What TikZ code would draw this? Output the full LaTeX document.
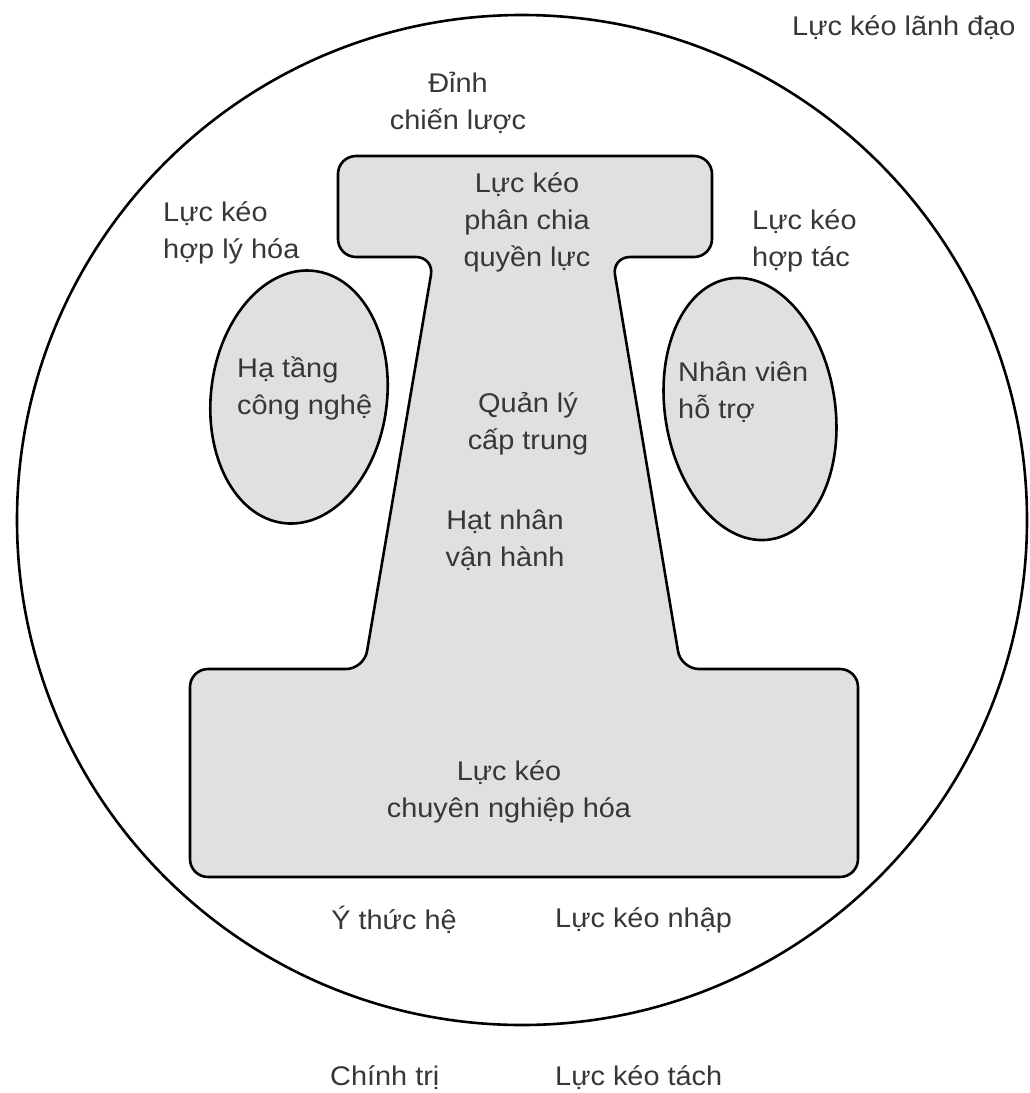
\documentclass[tikz,border=0pt]{standalone}
\usepackage{fontspec}
\setmainfont[FakeStretch=1.07]{Liberation Sans}
\usepackage{xcolor}
\definecolor{txtgray}{RGB}{55,55,55}
\definecolor{bodyfill}{RGB}{224,224,224}
\tikzset{
    lab/.style={
        font=\fontsize{27}{37}\selectfont, text=txtgray, inner sep=0pt
    }
}

\begin{document}
\begin{tikzpicture}[x=1pt,y=-1pt, line cap=round, line join=round]

\tikzset{
  rim/.style={draw=black, line width=2.6pt},
  body/.style={draw=black, fill=bodyfill, line width=2.6pt},
  mlab/.style={lab, align=center},
  llab/.style={lab, align=left, anchor=west},
}

\useasboundingbox (0,0) rectangle (1029,1093);

\coordinate (O) at (522,520);
\coordinate (L) at (299,397);
\coordinate (R) at (750,409);

% outer circle
\draw[rim] (O) circle[radius=505pt];

% core — top bar, neck, bottom bar
\draw[body, rounded corners=18pt] (338,156) -- (712,156) -- (712,257) -- (612,257)
  -- (681,669) -- (858,669) -- (858,877) -- (190,877) -- (190,669) -- (364,669)
  -- (434,257) -- (338,257) -- cycle;

% side ellipses
\draw[body, rotate around={-7:(L)}] (L) ellipse[x radius=88pt, y radius=127pt];
\draw[body, rotate around={9:(R)}] (R) ellipse[x radius=85pt, y radius=132pt];

% labels
\node[llab] (lead) at (792,28) {Lực kéo lãnh đạo};
\node[mlab] (peak) at (458,103) {Đỉnh\\chiến lược};
\node[mlab] (power) at (527,222) {Lực kéo\\phân chia\\quyền lực};
\node[llab] (ration) at (163,233) {Lực kéo\\hợp lý hóa};
\node[llab] (collab) at (752,241) {Lực kéo\\hợp tác};
\node[llab] (tech) at (237,388) {Hạ tầng\\công nghệ};
\node[llab] (staff) at (678,392) {Nhân viên\\hỗ trợ};
\node[mlab] (middle) at (528,424) {Quản lý\\cấp trung};
\node[mlab] (core) at (505,540) {Hạt nhân\\vận hành};
\node[mlab] (prof) at (509,792) {Lực kéo\\chuyên nghiệp hóa};
\node[lab] (ideo) at (394,920) {Ý thức hệ};
\node[llab] (merge) at (555,920) {Lực kéo nhập};
\node[llab] (polit) at (330,1078) {Chính trị};
\node[llab] (split) at (555,1078) {Lực kéo tách};

\end{tikzpicture}
\end{document}
